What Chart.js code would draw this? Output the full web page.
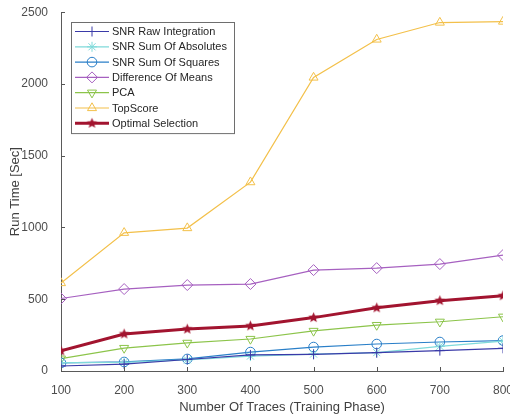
<!DOCTYPE html>
<html>
<head>
<meta charset="utf-8">
<script src="https://cdn.jsdelivr.net/npm/chart.js@4"></script>
<style>
  html, body { margin: 0; padding: 0; background: #fff; }
  #wrap { width: 510px; height: 419px; }
</style>
</head>
<body>
<div id="wrap"><canvas id="runChart" width="510" height="419"></canvas></div>
<script>
// Values
const traces = [100, 200, 300, 400, 500, 600, 700, 800];
const rawIntegration = [35, 48, 80, 112, 116, 128, 142, 158];
const sumOfAbsolutes = [58, 60, 78, 104, 118, 128, 172, 208];
const sumOfSquares = [56, 63, 84, 132, 167, 188, 202, 212];
const differenceOfMeans = [505, 571, 599, 606, 703, 717, 745, 808];
const pca = [86, 160, 196, 223, 279, 320, 343, 378];
const topScore = [613, 963, 996, 1316, 2045, 2310, 2428, 2435];
const optimalSelection = [140, 258, 292, 314, 372, 440, 490, 524];
const yTicks = [0, 500, 1000, 1500, 2000, 2500];

// filled pentagram used as the marker of Optimal Selection
function makeStar(color, r) {
  const c = document.createElement('canvas');
  const s = Math.ceil(r * 2 + 2);
  c.width = s; c.height = s;
  const g = c.getContext('2d');
  g.beginPath();
  for (let i = 0; i < 10; i++) {
    const rad = i % 2 === 0 ? r : r * 0.45;
    const a = -Math.PI / 2 + i * Math.PI / 5;
    const px = s / 2 + rad * Math.cos(a), py = s / 2 + rad * Math.sin(a);
    if (i === 0) g.moveTo(px, py); else g.lineTo(px, py);
  }
  g.closePath();
  g.fillStyle = color;
  g.fill();
  return c;
}
const starMarker = makeStar('#a2142f', 5.5);

function series(label, data, color, style, extra) {
  return Object.assign({
    label: label,
    data: data.map((v, i) => ({ x: traces[i], y: v })),
    borderColor: color,
    backgroundColor: 'rgba(0,0,0,0)',
    pointBorderColor: color,
    pointBackgroundColor: 'rgba(255,255,255,0)',
    borderWidth: 1.2,
    pointStyle: style,
    pointRadius: 4.8,
    pointBorderWidth: 1,
    tension: 0
  }, extra || {});
}

const datasets = [
  series('SNR Raw Integration', rawIntegration, '#3a3aa8', 'cross', { pointRadius: 5 }),
  series('SNR Sum Of Absolutes', sumOfAbsolutes, '#7fdada', 'star', { pointRadius: 5 }),
  series('SNR Sum Of Squares', sumOfSquares, '#2a7fc8', 'circle'),
  series('Difference Of Means', differenceOfMeans, '#a660c0', 'rectRot', { pointRadius: 5.5 }),
  series('PCA', pca, '#8cc44a', 'triangle', { pointRotation: 180, pointRadius: 5.2 }),
  series('TopScore', topScore, '#f3c04a', 'triangle', { pointRadius: 5.2 }),
  series('Optimal Selection', optimalSelection, '#a2142f', starMarker, { borderWidth: 3 })
];

// MATLAB style: ticks pointing into the plot area
const innerTicks = {
  id: 'innerTicks',
  afterDraw(chart) {
    const ctx = chart.ctx, a = chart.chartArea;
    const xs = chart.scales.x, ys = chart.scales.y;
    ctx.save();
    ctx.strokeStyle = '#555';
    ctx.lineWidth = 1;
    ctx.beginPath();
    traces.forEach(t => {
      const px = Math.round(xs.getPixelForValue(t)) + 0.5;
      ctx.moveTo(px, a.bottom); ctx.lineTo(px, a.bottom - 4);
    });
    yTicks.forEach(t => {
      const py = Math.round(ys.getPixelForValue(t)) + 0.5;
      ctx.moveTo(a.left, py); ctx.lineTo(a.left + 4, py);
    });
    ctx.stroke();
    ctx.restore();
  }
};

// legend box inside the plot, top left
const boxLegend = {
  id: 'boxLegend',
  afterDraw(chart) {
    const ctx = chart.ctx;
    const x0 = 71, y0 = 22, w = 163, rowH = 15.3;
    const h = rowH * chart.data.datasets.length + 4;
    ctx.save();
    ctx.fillStyle = '#fff';
    ctx.fillRect(x0, y0, w, h);
    ctx.strokeStyle = '#6e6e6e';
    ctx.lineWidth = 1;
    ctx.strokeRect(x0 + 0.5, y0 + 0.5, w, h);
    ctx.font = '11px "Liberation Sans", Arial, sans-serif';
    ctx.textBaseline = 'middle';
    chart.data.datasets.forEach((ds, i) => {
      const cy = y0 + 9.5 + i * rowH;
      ctx.strokeStyle = ds.borderColor;
      ctx.lineWidth = ds.borderWidth;
      ctx.beginPath();
      ctx.moveTo(x0 + 4, cy); ctx.lineTo(x0 + 38, cy);
      ctx.stroke();
      ctx.lineWidth = ds.pointBorderWidth;
      ctx.fillStyle = ds.pointBackgroundColor;
      Chart.helpers.drawPoint(ctx, {
        pointStyle: ds.pointStyle,
        rotation: ds.pointRotation || 0,
        radius: ds.pointRadius,
        borderWidth: ds.pointBorderWidth
      }, x0 + 21, cy);
      ctx.fillStyle = '#262626';
      ctx.fillText(ds.label, x0 + 41, cy + 0.5);
    });
    ctx.restore();
  }
};

new Chart(document.getElementById('runChart'), {
  type: 'line',
  data: { datasets: datasets },
  options: {
    responsive: false,
    animation: false,
    layout: { padding: { top: 12, right: 7, left: 0, bottom: 0 } },
    plugins: {
      legend: { display: false },
      tooltip: { enabled: false }
    },
    scales: {
      x: {
        type: 'linear',
        min: 100,
        max: 800,
        afterFit(scale) { scale.height = 48; scale.paddingRight = 0; },
        ticks: {
          stepSize: 100,
          color: '#4d4d4d',
          padding: 4,
          maxRotation: 0,
          callback: v => String(v),
          font: { family: '"Liberation Sans", Arial, sans-serif', size: 12 }
        },
        grid: { display: false },
        border: { display: true, color: '#5a5a5a', width: 1 },
        title: {
          display: true,
          text: 'Number Of Traces (Training Phase)',
          color: '#404040',
          padding: { top: 0 },
          font: { family: '"Liberation Sans", Arial, sans-serif', size: 13 }
        }
      },
      y: {
        min: 0,
        max: 2500,
        afterFit(scale) { scale.width = 61; },
        ticks: {
          stepSize: 500,
          color: '#4d4d4d',
          padding: 5,
          callback: v => String(v),
          font: { family: '"Liberation Sans", Arial, sans-serif', size: 12 }
        },
        grid: { display: false },
        border: { display: true, color: '#5a5a5a', width: 1 },
        title: {
          display: true,
          text: 'Run Time [Sec]',
          color: '#404040',
          padding: { top: 8, bottom: 4 },
          font: { family: '"Liberation Sans", Arial, sans-serif', size: 13 }
        }
      }
    }
  },
  plugins: [innerTicks, boxLegend]
});
</script>
</body>
</html>
